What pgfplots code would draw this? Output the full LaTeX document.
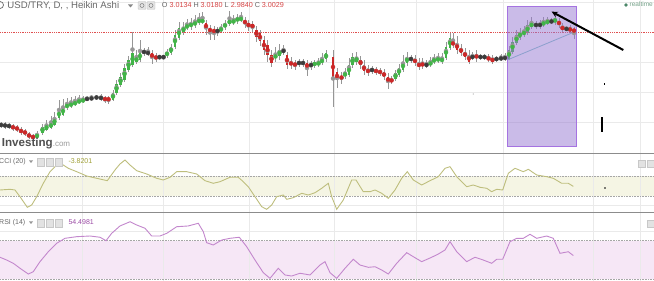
\documentclass[border=0pt]{standalone}
\usepackage{fontspec}
\setmainfont{Liberation Sans}
\usepackage{pgfplots}
\pgfplotsset{compat=1.18}
\usepackage{pgfplotstable}
\usetikzlibrary{arrows.meta}

\definecolor{cg}{RGB}{66,180,72}
\definecolor{cr}{RGB}{204,40,40}
\definecolor{cd}{RGB}{60,60,60}
\definecolor{wickc}{RGB}{150,150,150}
\definecolor{gridc}{RGB}{234,234,234}
\definecolor{pricel}{RGB}{224,80,80}
\definecolor{rectb}{RGB}{165,115,225}
\definecolor{rectf}{RGB}{150,120,210}
\definecolor{trendc}{RGB}{140,160,205}
\definecolor{ccil}{RGB}{190,190,125}
\definecolor{ccib}{RGB}{245,245,228}
\definecolor{rsil}{RGB}{195,135,205}
\definecolor{rsib}{RGB}{246,231,246}
\definecolor{txtg}{RGB}{105,105,105}
\definecolor{ohlcr}{RGB}{215,70,70}
\definecolor{sepc}{RGB}{140,140,140}
\definecolor{iconf}{RGB}{226,226,226}
\definecolor{iconb}{RGB}{200,200,200}
\definecolor{logog}{RGB}{80,80,80}
\definecolor{logol}{RGB}{155,155,155}
\definecolor{ccit}{RGB}{160,160,55}
\definecolor{rsit}{RGB}{155,75,165}
\definecolor{rtc}{RGB}{120,165,140}
\definecolor{rtd}{RGB}{75,135,105}

% Heikin Ashi candles: x  open  close  high  low
\pgfplotstableread{
x o c h l
37 2.686 2.698 2.707 2.683
42.5 2.701 2.719 2.728 2.695
46.5 2.710 2.725 2.740 2.707
51 2.716 2.731 2.752 2.713
54.5 2.725 2.746 2.764 2.722
59 2.746 2.770 2.800 2.740
63 2.755 2.779 2.803 2.752
67 2.776 2.788 2.806 2.770
71 2.7805 2.791 2.809 2.776
75 2.785 2.7955 2.812 2.782
79 2.791 2.800 2.815 2.788
83 2.7955 2.8015 2.812 2.791
113 2.800 2.821 2.830 2.797
116.5 2.821 2.848 2.860 2.815
120.5 2.845 2.869 2.881 2.839
124.5 2.860 2.896 2.908 2.854
128.5 2.890 2.920 2.932 2.884
132.5 2.905 2.941 3.004 2.899
136.5 2.914 2.929 2.950 2.908
140 2.920 2.944 2.980 2.914
167 2.932 2.944 2.953 2.926
171 2.941 2.959 2.968 2.935
175 2.959 2.995 3.010 2.953
179 2.986 3.016 3.034 2.980
183.5 3.004 3.019 3.034 2.995
187 3.016 3.025 3.043 3.010
191 3.019 3.031 3.046 3.010
195 3.025 3.034 3.055 3.016
199 3.031 3.043 3.061 3.025
202.5 3.034 3.040 3.064 3.028
221 3.007 3.016 3.028 3.001
225 3.019 3.028 3.040 3.010
229.5 3.028 3.040 3.067 3.022
233.5 3.031 3.040 3.055 3.025
237.5 3.037 3.046 3.058 3.028
241 3.040 3.046 3.064 3.034
275.5 2.926 2.935 2.959 2.914
279.5 2.932 2.950 2.968 2.920
314.5 2.905 2.911 2.920 2.896
318.5 2.905 2.914 2.926 2.899
322 2.911 2.923 2.941 2.905
326 2.923 2.941 2.950 2.914
345 2.872 2.881 2.896 2.863
349 2.875 2.905 2.926 2.869
352.5 2.905 2.929 2.941 2.896
356.5 2.914 2.929 2.944 2.905
395.5 2.863 2.881 2.890 2.857
399 2.875 2.896 2.908 2.869
403 2.890 2.914 2.935 2.884
407 2.911 2.929 2.944 2.902
430.5 2.905 2.914 2.929 2.899
434 2.914 2.923 2.938 2.908
438 2.917 2.926 2.941 2.911
442 2.914 2.926 2.941 2.908
446 2.926 2.959 2.974 2.920
450 2.956 2.986 3.001 2.950
509 2.923 2.950 2.962 2.920
512.5 2.944 2.974 2.989 2.938
516.5 2.971 2.995 3.010 2.965
520 2.986 3.004 3.016 2.980
524 2.995 3.007 3.022 2.989
527.5 3.001 3.025 3.040 2.995
531.5 3.019 3.031 3.049 3.013
543.5 3.025 3.034 3.049 3.019
547.5 3.031 3.037 3.049 3.025
555 3.034 3.043 3.055 3.025
}\tG

\pgfplotstableread{
x o c h l
13 2.722 2.7145 2.728 2.707
17 2.719 2.710 2.725 2.704
21 2.713 2.701 2.719 2.695
25 2.707 2.698 2.713 2.692
29 2.698 2.689 2.704 2.683
33 2.692 2.686 2.698 2.680
105 2.806 2.800 2.812 2.791
108.5 2.8045 2.800 2.812 2.788
152 2.941 2.926 2.950 2.908
156 2.932 2.923 2.941 2.914
206 3.031 3.013 3.040 2.995
210 3.016 3.004 3.025 2.980
214 3.013 3.001 3.022 2.980
245 3.040 3.028 3.049 3.016
248.5 3.031 3.019 3.040 3.007
252.5 3.028 3.016 3.037 3.001
256.5 3.010 2.989 3.022 2.974
260 3.001 2.977 3.010 2.962
264 2.980 2.950 2.992 2.935
267.5 2.965 2.935 2.980 2.914
271.5 2.935 2.911 2.950 2.899
287 2.935 2.905 2.944 2.893
291 2.914 2.905 2.929 2.893
295 2.911 2.902 2.920 2.890
307 2.911 2.896 2.920 2.872
333 2.929 2.869 2.950 2.779
337 2.884 2.860 2.896 2.836
341.5 2.872 2.863 2.884 2.848
360.5 2.920 2.905 2.932 2.893
364 2.905 2.887 2.920 2.875
368 2.893 2.881 2.905 2.872
376 2.890 2.884 2.899 2.875
380 2.887 2.881 2.896 2.872
384 2.884 2.869 2.893 2.860
388 2.869 2.854 2.881 2.833
391.5 2.863 2.854 2.872 2.848
415 2.923 2.911 2.935 2.902
419 2.911 2.899 2.926 2.890
422.5 2.911 2.902 2.926 2.893
453 2.974 2.965 3.001 2.956
457 2.971 2.950 2.992 2.938
461 2.956 2.941 2.968 2.932
465 2.944 2.929 2.956 2.920
469 2.935 2.914 2.950 2.908
476.5 2.935 2.926 2.950 2.914
488.5 2.929 2.920 2.938 2.914
492.5 2.926 2.914 2.935 2.908
559 3.037 3.025 3.046 3.016
562.5 3.022 3.010 3.031 3.004
570 3.016 3.007 3.025 3.001
574 3.0134 3.0029 3.018 2.984
}\tR

\pgfplotstableread{
x o c h l
1 2.725 2.725 2.734 2.716
5 2.7235 2.7235 2.734 2.713
9 2.722 2.722 2.731 2.713
87 2.803 2.803 2.812 2.797
91.5 2.8045 2.8045 2.815 2.800
96.5 2.8075 2.8075 2.815 2.800
101 2.806 2.806 2.818 2.797
144 2.944 2.944 2.956 2.932
148 2.941 2.941 2.959 2.932
159.5 2.929 2.929 2.935 2.920
163.5 2.929 2.929 2.935 2.920
217.5 3.007 3.007 3.019 2.992
283.5 2.947 2.947 2.965 2.935
299 2.911 2.911 2.923 2.899
303 2.911 2.911 2.923 2.899
311 2.905 2.905 2.917 2.890
372 2.890 2.890 2.902 2.878
411 2.923 2.923 2.935 2.911
426.5 2.905 2.905 2.920 2.896
472.5 2.929 2.929 2.944 2.920
480.5 2.929 2.929 2.938 2.920
484.5 2.929 2.929 2.938 2.920
496.5 2.923 2.923 2.932 2.914
501 2.9245 2.9245 2.938 2.917
505 2.926 2.926 2.941 2.917
536 3.025 3.025 3.037 3.013
540 3.025 3.025 3.040 3.013
551.5 3.0355 3.0355 3.046 3.028
566.5 3.013 3.013 3.022 3.007
}\tD

\pgfplotsset{
  pan/.style={scale only axis, width=654pt, xmin=0, xmax=654,
    axis line style={draw=none}, ticks=none, clip=true, anchor=south west},
  wick/.style={color=wickc, only marks, mark=none, forget plot,
    error bars/.cd, y dir=both, y explicit, error mark=none,
    error bar style={line width=0.7pt, color=wickc}},
  body/.style={color=#1, only marks, mark=none, forget plot,
    error bars/.cd, y dir=both, y explicit, error mark=none,
    error bar style={line width=2.8pt, color=#1}},
}
\newcommand{\vgrid}[2]{\pgfplotsinvokeforeach{82,163,249,334,416,503,593,640}{\draw[gridc, line width=0.8pt] (axis cs:##1,#1) -- (axis cs:##1,#2);}}

\begin{document}
\begin{tikzpicture}
\useasboundingbox (0pt,0pt) rectangle (654pt,281pt);
\fill[white] (0pt,0pt) rectangle (654pt,281pt);

% ---------------- main price panel ----------------
\begin{axis}[pan, at={(0pt,127.7pt)}, height=153.3pt, ymin=2.64, ymax=3.1]
\vgrid{2.64}{3.1}
\pgfplotsinvokeforeach{3.094,2.914,2.824,2.734}{\draw[gridc, line width=0.8pt] (axis cs:0,#1) -- (axis cs:654,#1);}
\addplot[wick] table[x=x, y expr={(\thisrow{h}+\thisrow{l})/2}, y error expr={(\thisrow{h}-\thisrow{l})/2}] {\tG};
\addplot[wick] table[x=x, y expr={(\thisrow{h}+\thisrow{l})/2}, y error expr={(\thisrow{h}-\thisrow{l})/2}] {\tR};
\addplot[wick] table[x=x, y expr={(\thisrow{h}+\thisrow{l})/2}, y error expr={(\thisrow{h}-\thisrow{l})/2}] {\tD};
\addplot[body=cg] table[x=x, y expr={(\thisrow{o}+\thisrow{c})/2}, y error expr={max(abs(\thisrow{o}-\thisrow{c})/2,0.0015)}] {\tG};
\addplot[body=cr] table[x=x, y expr={(\thisrow{o}+\thisrow{c})/2}, y error expr={max(abs(\thisrow{o}-\thisrow{c})/2,0.0015)}] {\tR};
\addplot[body=cd] table[x=x, y expr={(\thisrow{o}+\thisrow{c})/2}, y error expr={0.0018}] {\tD};
\draw[pricel, line width=0.8pt, densely dotted] (axis cs:0,3.0029) -- (axis cs:654,3.0029);
\draw[rectb, line width=1.2pt, fill=rectf, fill opacity=0.5] (axis cs:507.3,3.0799) rectangle (axis cs:576.7,2.6599);
\draw[trendc, line width=0.8pt] (axis cs:507.3,2.920) -- (axis cs:575,3.0049);
\draw[black, line width=2pt, -{Stealth[length=6pt,width=6pt]}] (axis cs:623.3,2.950) -- (axis cs:551.7,3.0649);
\fill[black] (axis cs:603.6,2.8509) rectangle (axis cs:605,2.8449);
\fill[black] (axis cs:601,2.750) rectangle (axis cs:602.6,2.705);
\fill[gray!70] (axis cs:473.3,2.8178) circle[radius=0.6pt];
\end{axis}

% ---------------- CCI panel ----------------
\begin{axis}[pan, at={(0pt,68.3pt)}, height=59.4pt, ymin=-267, ymax=327]
\fill[ccib] (axis cs:0,-100) rectangle (axis cs:654,100);
\vgrid{-267}{327}
\draw[gridc, line width=0.8pt] (axis cs:0,-190) -- (axis cs:654,-190);
\draw[gray!70, line width=0.6pt, densely dotted] (axis cs:0,100) -- (axis cs:654,100);
\draw[gray!70, line width=0.6pt, densely dotted] (axis cs:0,-100) -- (axis cs:654,-100);
\addplot[ccil, line width=0.9pt, mark=none] coordinates {
(0,-40)(10,-33)(15,-40)(20,-107)(27.3,-213)(31.7,-190)(36.7,-107)(43.3,27)(50,143)(55,193)(61.7,220)(68.3,177)(76.7,143)(86.7,100)(96.7,77)(107.3,53)(115,160)(120,220)(125,260)(130,210)(136.7,153)(146.7,120)(156.7,77)(163.3,60)(170,87)(176.7,143)(186.7,143)(196.7,120)(205,53)(213.3,27)(220,43)(230,87)(238.3,87)(243.3,43)(248.3,-7)(255,-107)(261.7,-207)(266.7,-233)(271.7,-190)(276.7,-107)(283.3,-90)(286.7,-133)(293.3,-117)(301.7,-73)(308.3,-90)(315,-67)(321.7,-23)(328.3,27)(331.7,-107)(336.7,-233)(343.3,-140)(351.7,60)(356,60)(363.3,-57)(370,-57)(375,-40)(381.7,-73)(388.3,-123)(395,-40)(401.7,77)(407.3,143)(413.3,60)(421.7,10)(430,53)(438.3,93)(445,177)(450,193)(456.7,93)(466.7,-7)(473.3,10)(480,-13)(486.7,-23)(491.7,-57)(496.7,-33)(502.7,-40)(508.3,127)(515,177)(523.3,143)(528.3,167)(536.7,110)(546.7,93)(553.3,77)(561.7,27)(568.3,27)(573.3,-3.82)};
\fill[black] (axis cs:605,-20) circle[radius=0.9pt];
\end{axis}

% ---------------- RSI panel ----------------
\begin{axis}[pan, at={(0pt,0pt)}, height=68.3pt, ymin=27.91, ymax=99.24]
\fill[rsib] (axis cs:0,30) rectangle (axis cs:654,70);
\vgrid{27.91}{99.24}
\draw[gridc, line width=0.8pt] (axis cs:0,79.4) -- (axis cs:654,79.4);
\draw[gray!70, line width=0.6pt, densely dotted] (axis cs:0,70) -- (axis cs:654,70);
\draw[gray!70, line width=0.6pt, densely dotted] (axis cs:0,30) -- (axis cs:654,30);
\addplot[rsil, line width=0.9pt, mark=none] coordinates {
(0,52.7)(6.7,49.8)(13.3,46.4)(20,41.2)(28.3,35.2)(33.3,37.6)(40,48.1)(48.3,58.5)(56.7,67.3)(65,72.5)(76.7,74.2)(90,74.9)(100,73.6)(106,70)(111.7,77.7)(120,85.4)(130,89.8)(136.7,86.4)(145,83)(151.7,74.9)(160,74.9)(166.7,77.7)(176.7,84.6)(188.3,85.4)(198.3,88.2)(203.3,79.4)(206.7,67.9)(213.3,65.5)(221.7,70.7)(230,72.5)(239.3,73.6)(246.7,63.7)(255,49.8)(263.3,36.6)(270,30.7)(278.3,41.2)(285,34.2)(291.7,33.1)(300,36)(310,34.2)(316.7,41.2)(320,44.6)(325,48.1)(330,36.6)(336.7,30.7)(345,41.2)(353.3,50.6)(360,44.6)(368.3,42.2)(375,42.8)(381.7,39.4)(388.3,35.2)(396.7,46.4)(406.7,57.5)(413.3,53.3)(421.7,48.1)(431.7,52.7)(438.3,56.1)(445,60.3)(450,69)(456.7,58.5)(466.7,48.1)(475,52.7)(483.3,49.8)(491.7,46.4)(496.7,50.6)(502.7,50.6)(510,69)(516.7,72.5)(523.3,72.5)(530,76.7)(536.7,72.5)(546.7,74.9)(553.3,72.5)(560,56.8)(568.3,58.5)(573.3,54.4981)};
\end{axis}

% ---------------- separators ----------------
\draw[sepc, line width=1.4pt] (0pt,127.7pt) -- (654pt,127.7pt);
\draw[sepc, line width=1.6pt] (0pt,68.3pt) -- (654pt,68.3pt);

% ---------------- header texts ----------------
\draw[txtg, line width=0.7pt] (0pt,276pt) circle[radius=3.5pt];
\node[anchor=base west, inner sep=0pt, text=txtg, font=\fontsize{9.6}{11}\selectfont] at (7.3pt,272.7pt) {USD/TRY, D, , Heikin Ashi};
\fill[txtg!80] (128pt,276.5pt) -- (133pt,276.5pt) -- (130.5pt,273.5pt) -- cycle;
\draw[iconb, fill=iconf, rounded corners=1pt] (138pt,271.5pt) rectangle (146pt,279.5pt);
\draw[iconb, fill=iconf, rounded corners=1pt] (147pt,271.5pt) rectangle (155pt,279.5pt);
\draw[gray, line width=0.5pt] (142pt,275.5pt) circle[radius=2pt];
\draw[gray, line width=0.5pt] (151pt,275.5pt) circle[radius=2pt];
\node[anchor=base west, inner sep=0pt, font=\fontsize{7.2}{9}\selectfont] at (161.7pt,273.7pt) {\textcolor{txtg}{O} \textcolor{ohlcr}{3.0134} \textcolor{txtg}{H} \textcolor{ohlcr}{3.0180} \textcolor{txtg}{L} \textcolor{ohlcr}{2.9840} \textcolor{txtg}{C} \textcolor{ohlcr}{3.0029}};
\fill[rtd] (626pt,276pt) circle[radius=1.8pt];
\node[anchor=base west, inner sep=0pt, text=rtc, font=\fontsize{6.5}{8}\selectfont] at (629.5pt,274pt) {realtime};

% logo
\node[anchor=base west, inner sep=0pt] at (1.7pt,134.3pt) {\fontsize{11.6}{13}\selectfont\bfseries\textcolor{logog}{Investing}\fontsize{8}{9}\selectfont\mdseries\textcolor{logol}{.com}};

% ---------------- CCI labels ----------------
\node[anchor=base west, inner sep=0pt, text=txtg, font=\fontsize{7}{9}\selectfont] at (-1pt,117pt) {CCI (20)};
\fill[txtg!70] (29pt,120.5pt) -- (33pt,120.5pt) -- (31pt,118pt) -- cycle;
\draw[iconb, fill=iconf] (37pt,115pt) rectangle (44.5pt,122.5pt);
\draw[iconb, fill=iconf] (46pt,115pt) rectangle (53.5pt,122.5pt);
\draw[iconb, fill=iconf] (55pt,115pt) rectangle (62.5pt,122.5pt);
\node[anchor=base west, inner sep=0pt, text=ccit, font=\fontsize{7}{9}\selectfont] at (68.3pt,117pt) {-3.8201};
\draw[iconb, fill=iconf] (638pt,114pt) rectangle (645pt,121pt);
\draw[iconb, fill=iconf] (647pt,114pt) rectangle (654pt,121pt);

% ---------------- RSI labels ----------------
\node[anchor=base west, inner sep=0pt, text=txtg, font=\fontsize{7}{9}\selectfont] at (-1pt,56pt) {RSI (14)};
\fill[txtg!70] (29pt,59.5pt) -- (33pt,59.5pt) -- (31pt,57pt) -- cycle;
\draw[iconb, fill=iconf] (37pt,54pt) rectangle (44.5pt,61.5pt);
\draw[iconb, fill=iconf] (46pt,54pt) rectangle (53.5pt,61.5pt);
\draw[iconb, fill=iconf] (55pt,54pt) rectangle (62.5pt,61.5pt);
\node[anchor=base west, inner sep=0pt, text=rsit, font=\fontsize{7}{9}\selectfont] at (68.3pt,56pt) {54.4981};
\draw[iconb, fill=iconf] (647pt,54pt) rectangle (654pt,61pt);
\end{tikzpicture}
\end{document}
